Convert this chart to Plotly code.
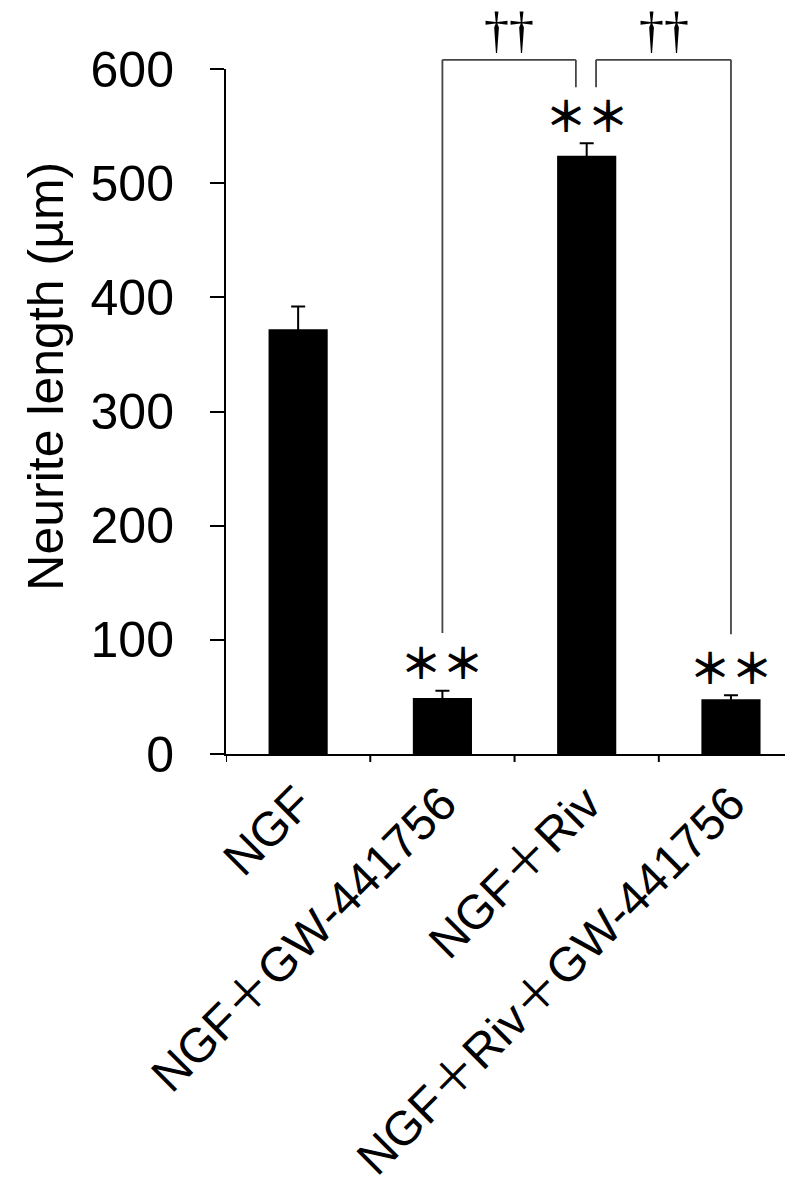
import plotly.graph_objects as go

categories = ["NGF", "NGF＋GW-441756", "NGF＋Riv", "NGF＋Riv＋GW-441756"]
values = [372, 49, 524, 48]
errors = [20, 6.5, 11, 3.5]
sig_marks = ["", "＊＊", "＊＊", "＊＊"]
y_ticks = [0, 100, 200, 300, 400, 500, 600]

YMAX = 600
FONT = "Arial, 'Liberation Sans', 'Noto Sans CJK JP', sans-serif"

fig = go.Figure()
fig.add_trace(go.Bar(
    x=list(range(len(categories))), y=values, width=0.41,
    marker=dict(color="black", line=dict(width=0)),
    error_y=dict(type="data", array=errors, visible=True, color="black",
                 thickness=2, width=7),
    showlegend=False,
))

# significance asterisks above bars
for i, (v, e, s) in enumerate(zip(values, errors, sig_marks)):
    if s:
        fig.add_annotation(x=i, y=v + e + 26, xref="x", yref="y", text=s,
                           showarrow=False, yanchor="middle",
                           font=dict(family="'Noto Sans CJK JP'", size=42, color="black",
                                     weight="bold"))

def p(v):
    return v / YMAX

# brackets (comparisons vs NGF+Riv)
brackets = [(1, 1.925, 106, 584), (2.065, 3, 584, 105)]
top = 608
lc = dict(color="#444444", width=1.8)
for x0, x1, ylo0, ylo1 in brackets:
    fig.add_shape(type="line", xref="x", yref="paper", x0=x0, x1=x0, y0=p(ylo0), y1=p(top), line=lc)
    fig.add_shape(type="line", xref="x", yref="paper", x0=x0, x1=x1, y0=p(top), y1=p(top), line=lc)
    fig.add_shape(type="line", xref="x", yref="paper", x0=x1, x1=x1, y0=p(top), y1=p(ylo1), line=lc)
    fig.add_annotation(x=(x0 + x1) / 2, y=p(top), xref="x", yref="paper", text="††",
                       showarrow=False, yanchor="bottom",
                       font=dict(family="'Liberation Serif', serif", size=50, color="black"))

fig.add_annotation(x=-0.319, y=0.551, xref="paper", yref="paper", text="Neurite length (µm)",
                   textangle=-90, showarrow=False, xanchor="center", yanchor="middle",
                   font=dict(family=FONT, size=50, color="black"))

# page body has an 8px margin: figure is 785x1186 placed at (8, 8)
fig.update_layout(
    width=785, height=1186,
    margin=dict(l=218, r=0, t=61, b=440, autoexpand=False),
    plot_bgcolor="white", paper_bgcolor="white",
    font=dict(family=FONT, size=50, color="black"),
    xaxis=dict(range=[-0.5, 3.43], tickmode="array", tickvals=list(range(len(categories))),
               ticktext=categories, tickangle=-45, showline=True, linecolor="black",
               linewidth=2, showgrid=False, zeroline=False, ticks="", automargin=False,
               tickfont=dict(size=48)),
    yaxis=dict(range=[0, YMAX], tickvals=y_ticks, ticks="outside", ticklen=14,
               tickwidth=2, tickcolor="black", showline=True, linecolor="black",
               linewidth=2, showgrid=False, zeroline=False, ticklabelstandoff=26,
               automargin=False),
)

# x boundary ticks
for b in [-0.5, 0.5, 1.5, 2.5]:
    fig.add_shape(type="line", xref="x", yref="paper", x0=b, x1=b, y0=0, y1=-8 / 685,
                  line=dict(color="black", width=2))

fig.write_html("out.html")
